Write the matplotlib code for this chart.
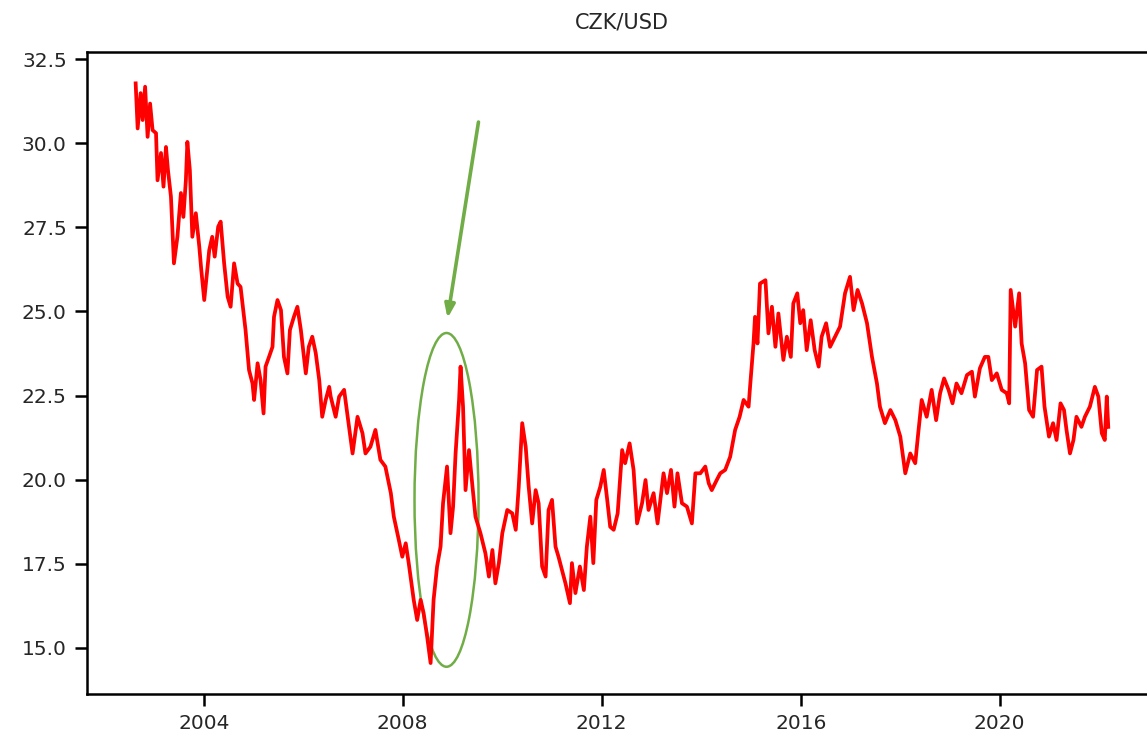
import matplotlib
matplotlib.use("Agg")
import matplotlib.pyplot as plt
import matplotlib.dates as mdates
from matplotlib.patches import Ellipse
import pandas as pd

# decimal years and CZK/USD values
years = [
    2002.63, 2002.67, 2002.73, 2002.77, 2002.82, 2002.87, 2002.92, 2002.97, 2003.04, 2003.07,
    2003.14, 2003.19, 2003.24, 2003.28, 2003.34, 2003.40, 2003.47, 2003.54, 2003.59, 2003.64,
    2003.67, 2003.72, 2003.77, 2003.84, 2003.91, 2003.95, 2004.01, 2004.11, 2004.17, 2004.22,
    2004.29, 2004.34, 2004.41, 2004.48, 2004.54, 2004.61, 2004.68, 2004.74, 2004.84, 2004.91,
    2004.98, 2005.01, 2005.08, 2005.14, 2005.20, 2005.24, 2005.31, 2005.38, 2005.41, 2005.48,
    2005.55, 2005.61, 2005.68, 2005.73, 2005.81, 2005.88, 2005.95, 2006.05, 2006.11, 2006.18,
    2006.25, 2006.32, 2006.38, 2006.45, 2006.52, 2006.55, 2006.65, 2006.72, 2006.82, 2006.92,
    2006.99, 2007.09, 2007.19, 2007.25, 2007.35, 2007.45, 2007.55, 2007.65, 2007.76, 2007.82,
    2007.92, 2007.99, 2008.06, 2008.12, 2008.22, 2008.29, 2008.36, 2008.42, 2008.49, 2008.56,
    2008.62, 2008.69, 2008.76, 2008.81, 2008.89, 2008.96, 2009.01, 2009.06, 2009.13, 2009.16,
    2009.21, 2009.26, 2009.33, 2009.40, 2009.46, 2009.56, 2009.66, 2009.73, 2009.80, 2009.86,
    2009.93, 2010.00, 2010.10, 2010.20, 2010.27, 2010.33, 2010.40, 2010.47, 2010.53, 2010.60,
    2010.67, 2010.73, 2010.80, 2010.87, 2010.93, 2011.00, 2011.07, 2011.13, 2011.20, 2011.27,
    2011.36, 2011.40, 2011.47, 2011.56, 2011.64, 2011.70, 2011.77, 2011.83, 2011.89, 2011.97,
    2012.04, 2012.11, 2012.17, 2012.24, 2012.32, 2012.41, 2012.47, 2012.56, 2012.64, 2012.71,
    2012.81, 2012.88, 2012.94, 2013.04, 2013.12, 2013.24, 2013.31, 2013.39, 2013.46, 2013.52,
    2013.61, 2013.71, 2013.81, 2013.88, 2013.98, 2014.08, 2014.15, 2014.21, 2014.31, 2014.38,
    2014.48, 2014.58, 2014.68, 2014.77, 2014.85, 2014.95, 2014.98, 2015.05, 2015.08, 2015.13,
    2015.18, 2015.29, 2015.35, 2015.42, 2015.49, 2015.55, 2015.65, 2015.72, 2015.80, 2015.85,
    2015.93, 2015.99, 2016.05, 2016.12, 2016.20, 2016.28, 2016.36, 2016.42, 2016.51, 2016.59,
    2016.69, 2016.79, 2016.89, 2016.99, 2017.06, 2017.14, 2017.23, 2017.33, 2017.43, 2017.53,
    2017.59, 2017.69, 2017.80, 2017.90, 2018.00, 2018.10, 2018.20, 2018.30, 2018.36, 2018.43,
    2018.53, 2018.63, 2018.72, 2018.80, 2018.88, 2018.97, 2019.05, 2019.13, 2019.23, 2019.34,
    2019.44, 2019.50, 2019.60, 2019.70, 2019.77, 2019.84, 2019.94, 2020.04, 2020.14, 2020.19,
    2020.22, 2020.31, 2020.39, 2020.44, 2020.51, 2020.59, 2020.67, 2020.75, 2020.84, 2020.90,
    2020.99, 2021.07, 2021.14, 2021.22, 2021.29, 2021.34, 2021.41, 2021.48, 2021.54, 2021.64,
    2021.71, 2021.81, 2021.91, 2021.98, 2022.05, 2022.11, 2022.15, 2022.18,
]
rates = [
    31.78, 30.44, 31.49, 30.69, 31.68, 30.19, 31.18, 30.39, 30.30, 28.90,
    29.71, 28.71, 29.89, 29.20, 28.41, 26.43, 27.22, 28.52, 27.81, 28.90,
    30.04, 29.20, 27.22, 27.92, 26.92, 26.23, 25.34, 26.82, 27.22, 26.63,
    27.52, 27.67, 26.43, 25.44, 25.14, 26.43, 25.83, 25.73, 24.45, 23.26,
    22.86, 22.37, 23.46, 22.96, 21.97, 23.36, 23.65, 23.95, 24.84, 25.34,
    25.04, 23.65, 23.16, 24.45, 24.84, 25.14, 24.45, 23.16, 23.95, 24.25,
    23.76, 22.96, 21.87, 22.37, 22.76, 22.47, 21.87, 22.47, 22.67, 21.57,
    20.78, 21.87, 21.38, 20.78, 20.98, 21.48, 20.59, 20.39, 19.60, 18.90,
    18.21, 17.71, 18.11, 17.52, 16.43, 15.83, 16.43, 16.03, 15.34, 14.55,
    16.43, 17.42, 18.01, 19.30, 20.39, 18.41, 19.20, 20.78, 22.37, 23.36,
    22.17, 19.69, 20.88, 19.79, 18.90, 18.41, 17.81, 17.12, 17.91, 16.92,
    17.52, 18.41, 19.10, 19.00, 18.51, 19.79, 21.68, 20.98, 19.79, 18.70,
    19.69, 19.30, 17.42, 17.12, 19.10, 19.40, 18.01, 17.71, 17.32, 16.92,
    16.33, 17.52, 16.63, 17.42, 16.72, 18.01, 18.90, 17.52, 19.40, 19.79,
    20.29, 19.40, 18.60, 18.51, 19.00, 20.88, 20.49, 21.08, 20.29, 18.70,
    19.30, 19.99, 19.10, 19.60, 18.70, 20.19, 19.60, 20.29, 19.20, 20.19,
    19.30, 19.20, 18.70, 20.19, 20.19, 20.39, 19.89, 19.69, 19.99, 20.19,
    20.29, 20.68, 21.48, 21.87, 22.37, 22.17, 22.76, 24.05, 24.84, 24.05,
    25.83, 25.93, 24.35, 25.14, 23.95, 24.94, 23.56, 24.25, 23.65, 25.24,
    25.54, 24.65, 25.04, 23.85, 24.74, 23.85, 23.36, 24.25, 24.65, 23.95,
    24.25, 24.55, 25.54, 26.03, 25.04, 25.64, 25.24, 24.65, 23.65, 22.86,
    22.17, 21.68, 22.07, 21.77, 21.28, 20.19, 20.78, 20.49, 21.38, 22.37,
    21.87, 22.67, 21.77, 22.57, 23.01, 22.67, 22.27, 22.86, 22.57, 23.11,
    23.21, 22.47, 23.31, 23.65, 23.65, 22.96, 23.16, 22.67, 22.57, 22.27,
    25.64, 24.55, 25.54, 24.05, 23.46, 22.07, 21.87, 23.26, 23.36, 22.17,
    21.28, 21.68, 21.18, 22.27, 22.07, 21.48, 20.78, 21.18, 21.87, 21.57,
    21.87, 22.17, 22.76, 22.47, 21.38, 21.18, 22.47, 21.57,
]
tick_years = [2004, 2008, 2012, 2016, 2020]
title = "CZK/USD"

# annotation (ellipse + arrow) in data units
ell_center = (2008.88, 19.40)
ell_size = (1.285, 9.92)
arrow_start = (2009.52, 30.63)
arrow_end = (2008.90, 24.80)


def to_date(y):
    yr = int(y)
    return pd.Timestamp(year=yr, month=1, day=1) + pd.Timedelta(days=(y - yr) * 365.25)


dates = [to_date(y) for y in years]

plt.rcParams['font.family'] = ['DejaVu Sans']
fig = plt.figure(figsize=(11.47, 7.44), dpi=100)
ax = fig.add_axes([0.0758, 0.0672, 0.9329, 0.8628])

ax.plot(dates, rates, color='#ff0000', linewidth=2.7, solid_joinstyle='round')

ax.set_ylim(13.63, 32.71)
ax.set_xlim(to_date(2001.65), to_date(2023.16))
ax.set_yticks([15.0, 17.5, 20.0, 22.5, 25.0, 27.5, 30.0, 32.5])
ax.set_xticks([pd.Timestamp(year=y, month=1, day=1) for y in tick_years])
ax.xaxis.set_major_formatter(mdates.DateFormatter('%Y'))

for sp in ax.spines.values():
    sp.set_linewidth(1.8)
ax.tick_params(axis='both', length=8.5, width=1.8, labelsize=14.5,
               labelcolor='#262626', pad=6)

ax.set_title(title, fontsize=15, color='#262626', pad=17)

green = '#70ad47'
ex = mdates.date2num(to_date(ell_center[0]))
ew = mdates.date2num(to_date(ell_center[0] + ell_size[0] / 2)) - mdates.date2num(to_date(ell_center[0] - ell_size[0] / 2))
ax.add_patch(Ellipse((ex, ell_center[1]), ew, ell_size[1], fill=False,
                     edgecolor=green, linewidth=1.8))
ax.annotate('', xy=(to_date(arrow_end[0]), arrow_end[1]),
            xytext=(to_date(arrow_start[0]), arrow_start[1]),
            arrowprops=dict(arrowstyle='-|>,head_length=0.8,head_width=0.3',
                            color=green, linewidth=2.6, shrinkA=0, shrinkB=0))

fig.savefig('out.png', dpi=100)
